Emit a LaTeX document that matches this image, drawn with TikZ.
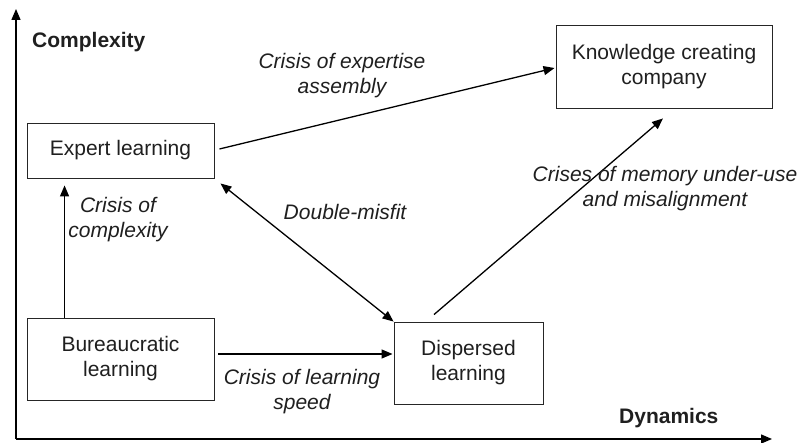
\documentclass[tikz,border=0pt]{standalone}
\usepackage{fontspec}
\setmainfont{Liberation Sans}
\usetikzlibrary{arrows.meta}
\begin{document}
\begin{tikzpicture}[x=1pt,y=-1pt,
  every node/.style={font=\fontsize{21}{25}\selectfont, text=black!88, inner sep=0pt},
  stagebox/.style={draw=black!85, line width=0.9pt, rectangle, align=center},
  flow/.style={line width=1.3pt, -{Triangle[length=11pt,width=9pt]}},
  twoway/.style={line width=1.3pt, {Triangle[length=11pt,width=9pt]}-{Triangle[length=11pt,width=9pt]}},
  crisis/.style={font=\fontsize{21}{25}\selectfont\itshape, align=center},
  axislabel/.style={font=\fontsize{21}{25}\selectfont\bfseries}]
\useasboundingbox (0,0) rectangle (802,443);

% axes
\coordinate (origin) at (16,439);
\coordinate (ytip) at (16,9);
\coordinate (xtip) at (772,439);
\draw[flow] (origin) -- (ytip);
\draw[flow] (origin) -- (xtip);
\node[axislabel, anchor=base west] (ylab) at (32,48) {Complexity};
\node[axislabel, anchor=base west] (xlab) at (619,423) {Dynamics};

% learning stages
\node[stagebox, minimum width=187pt, minimum height=55pt] (exp) at (120.5,150.5) {Expert learning};
\node[stagebox, minimum width=187pt, minimum height=82pt] (bur) at (120.5,359) {Bureaucratic\\learning};
\node[stagebox, minimum width=149pt, minimum height=82pt] (dis) at (468.5,363) {Dispersed\\learning};
\node[stagebox, minimum width=216pt, minimum height=83pt] (kno) at (664,66.5) {Knowledge creating\\company};

% transitions
\draw[flow] ([xshift=38pt]bur.north west) -- ([xshift=38pt,yshift=-7pt]exp.south west);
\draw[flow] ([xshift=4pt,yshift=5pt]bur.east) -- ([xshift=-1pt,yshift=9pt]dis.west);
\draw[flow] ([xshift=5pt,yshift=1.5pt]exp.east) -- ([xshift=-1pt,yshift=-1.5pt]kno.west);
\draw[twoway] ([xshift=6pt,yshift=-5pt]exp.south east) -- (dis.north west);
\draw[flow] ([xshift=-34.5pt,yshift=7pt]dis.north) -- ([xshift=-1pt,yshift=-10pt]kno.south);

% crisis labels
\node[crisis] (c1) at (342,76) {Crisis of expertise\\assembly};
\node[crisis] (c2) at (118,220) {Crisis of\\complexity};
\node[crisis] (c3) at (345,211.5) {Double-misfit};
\node[crisis] (c4) at (665,189) {Crises of memory under-use\\and misalignment};
\node[crisis] (c5) at (302,392) {Crisis of learning\\speed};
\end{tikzpicture}
\end{document}
